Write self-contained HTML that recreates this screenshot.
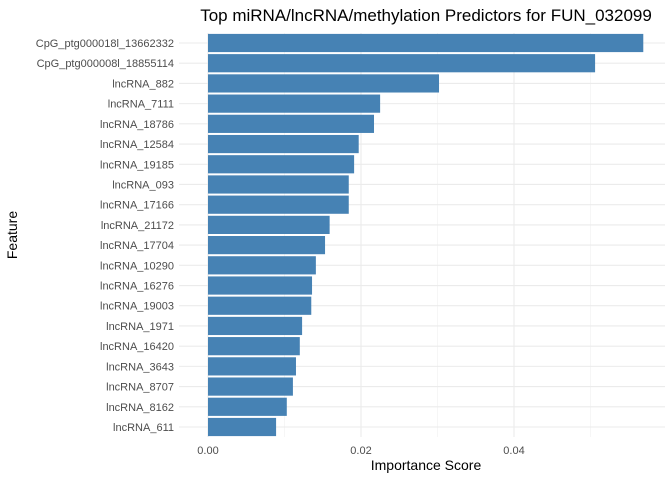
<!DOCTYPE html>
<html><head><meta charset="utf-8"><style>
body{margin:0;background:#fff;}
svg text{font-family:"Liberation Sans",sans-serif;}
</style></head><body>
<svg id="chart" width="672" height="480" xmlns="http://www.w3.org/2000/svg">
<text x="426" y="21" font-size="17" text-anchor="middle" fill="#000">Top miRNA/lncRNA/methylation Predictors for FUN_032099</text>
<g id="grid"></g>
<g id="bars"></g>
<g id="ylabels"></g>
<g id="xlabels"></g>
<text x="426" y="470" font-size="14" text-anchor="middle" fill="#000">Importance Score</text>
<text x="17" y="235" font-size="14" text-anchor="middle" fill="#000" transform="rotate(-90 17 235)">Feature</text>
</svg>
<script>
const categories=["CpG_ptg000018l_13662332","CpG_ptg000008l_18855114","lncRNA_882","lncRNA_7111","lncRNA_18786","lncRNA_12584","lncRNA_19185","lncRNA_093","lncRNA_17166","lncRNA_21172","lncRNA_17704","lncRNA_10290","lncRNA_16276","lncRNA_19003","lncRNA_1971","lncRNA_16420","lncRNA_3643","lncRNA_8707","lncRNA_8162","lncRNA_611"];
const values=[0.0569,0.0506,0.0302,0.0225,0.0217,0.0197,0.0191,0.0184,0.0184,0.0159,0.0153,0.0141,0.0136,0.0135,0.0123,0.0120,0.0115,0.0111,0.0103,0.0089];
const xTicks=[0,0.02,0.04];
const xTickLabels=["0.00","0.02","0.04"];
const minorTicks=[0.01,0.03,0.05];
const NS="http://www.w3.org/2000/svg";
const px0=208,pxPerUnit=7650,panelL=179,panelR=665,panelT=33,panelB=437;
const x=v=>px0+v*pxPerUnit;
const step=(427-43)/(categories.length-1);
const y=i=>43+i*step;
function mk(tag,attrs,parent){const e=document.createElementNS(NS,tag);for(const k in attrs)e.setAttribute(k,attrs[k]);document.getElementById(parent).appendChild(e);return e;}
minorTicks.forEach(t=>{const l=mk('line',{x1:x(t),x2:x(t),y1:panelT,y2:panelB,stroke:'#f0f0f0','stroke-width':0.6},'grid');

});
xTicks.forEach((t,i)=>{const l=mk('line',{x1:x(t),x2:x(t),y1:panelT,y2:panelB,stroke:'#ebebeb','stroke-width':1.1},'grid');


const tx=mk('text',{x:x(t),y:454,'font-size':11,'text-anchor':'middle',fill:'#4d4d4d'},'xlabels');
tx.textContent=xTickLabels[i];

});
categories.forEach((c,i)=>{const l=mk('line',{x1:panelL,x2:panelR,y1:y(i),y2:y(i),stroke:'#ebebeb','stroke-width':1.1},'grid');


const r=mk('rect',{x:x(0),y:y(i)-9.1,width:x(values[i])-x(0),height:18.2,fill:'#4682b4'},'bars');


const t=mk('text',{x:174,y:y(i)+4,'font-size':11,'text-anchor':'end',fill:'#4d4d4d'},'ylabels');
t.textContent=c;

});
</script>
</body></html>
